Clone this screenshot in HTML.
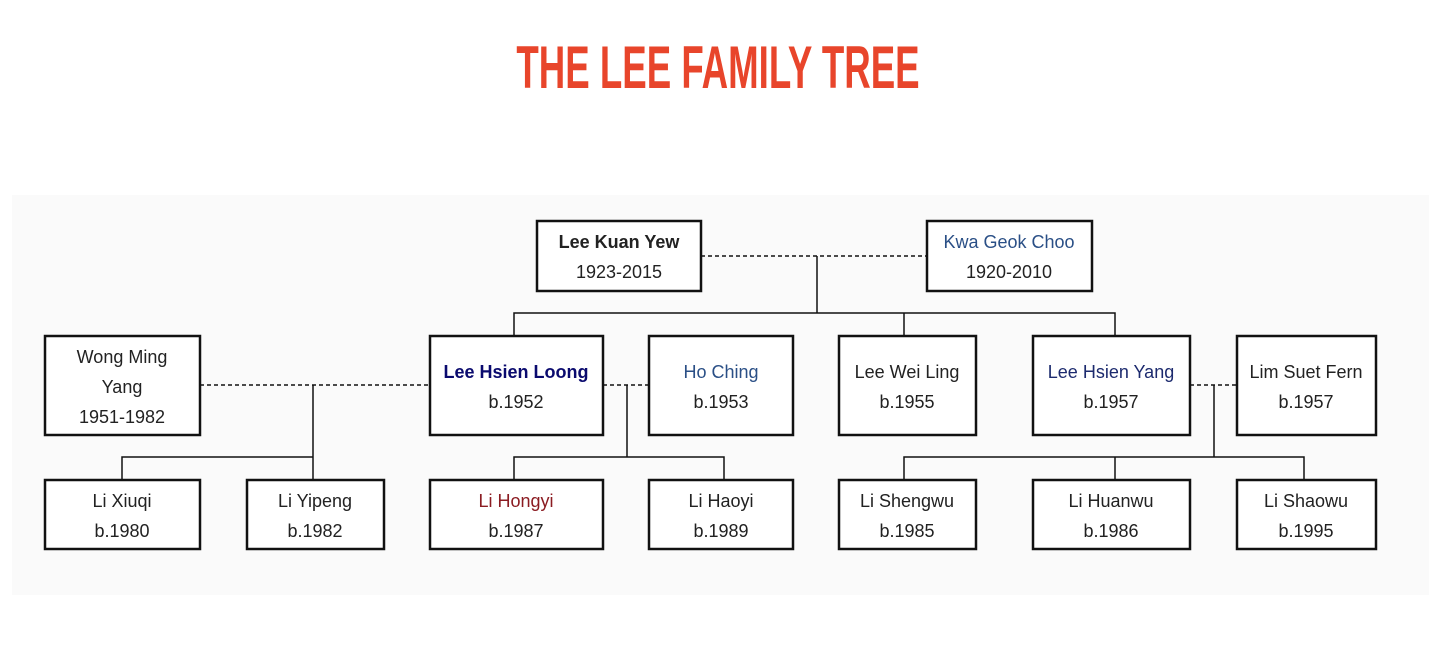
<!DOCTYPE html>
<html><head><meta charset="utf-8"><style>
html,body{margin:0;padding:0;background:#fff;width:1429px;height:650px;overflow:hidden}
svg{display:block}
.t{font-family:"Liberation Sans",Arial,sans-serif;font-size:18px;fill:#222;text-anchor:middle}
</style></head><body>
<svg width="1429" height="650" viewBox="0 0 1429 650" xmlns="http://www.w3.org/2000/svg">
<rect x="0" y="0" width="1429" height="650" fill="#fff"/>
<text x="718" y="88" text-anchor="middle" font-family="Liberation Sans,Arial,sans-serif" font-weight="bold" font-size="60" fill="#e8452b" transform="translate(718 0) scale(0.72 1) translate(-718 0)" textLength="560" lengthAdjust="spacingAndGlyphs">THE LEE FAMILY TREE</text>
<rect x="12" y="195" width="1417" height="400" fill="#fafafa"/>
<g stroke="#111" stroke-width="1.5" fill="none">
<line x1="701" y1="256" x2="927" y2="256" stroke-dasharray="4,3"/>
<line x1="817" y1="256" x2="817" y2="313"/>
<polyline points="514,336 514,313 1115,313 1115,336"/>
<line x1="904" y1="313" x2="904" y2="336"/>
<line x1="200" y1="385" x2="430" y2="385" stroke-dasharray="4,3"/>
<line x1="603" y1="385" x2="649" y2="385" stroke-dasharray="4,3"/>
<line x1="1190" y1="385" x2="1237" y2="385" stroke-dasharray="4,3"/>
<line x1="313" y1="385" x2="313" y2="480"/>
<polyline points="122,480 122,457 313,457"/>
<line x1="627" y1="385" x2="627" y2="457"/>
<polyline points="514,480 514,457 724,457 724,480"/>
<line x1="1214" y1="385" x2="1214" y2="457"/>
<polyline points="904,480 904,457 1304,457 1304,480"/>
<line x1="1115" y1="457" x2="1115" y2="480"/>
</g>
<g fill="#fff" stroke="#111" stroke-width="2.5">
<rect x="537" y="221" width="164" height="70"/>
<rect x="927" y="221" width="165" height="70"/>
<rect x="45" y="336" width="155" height="99"/>
<rect x="430" y="336" width="173" height="99"/>
<rect x="649" y="336" width="144" height="99"/>
<rect x="839" y="336" width="137" height="99"/>
<rect x="1033" y="336" width="157" height="99"/>
<rect x="1237" y="336" width="139" height="99"/>
<rect x="45" y="480" width="155" height="69"/>
<rect x="247" y="480" width="137" height="69"/>
<rect x="430" y="480" width="173" height="69"/>
<rect x="649" y="480" width="144" height="69"/>
<rect x="839" y="480" width="137" height="69"/>
<rect x="1033" y="480" width="157" height="69"/>
<rect x="1237" y="480" width="139" height="69"/>
</g>
<text class="t" x="619" y="248" font-weight="bold" fill="#111">Lee Kuan Yew</text>
<text class="t" x="619" y="278">1923-2015</text>
<text class="t" x="1009" y="248" style="fill:#2a4f86">Kwa Geok Choo</text>
<text class="t" x="1009" y="278">1920-2010</text>
<text class="t" x="122" y="363">Wong Ming</text>
<text class="t" x="122" y="393">Yang</text>
<text class="t" x="122" y="423">1951-1982</text>
<text class="t" x="516" y="378" font-weight="bold" style="fill:#0a0a6e">Lee Hsien Loong</text>
<text class="t" x="516" y="408">b.1952</text>
<text class="t" x="721" y="378" style="fill:#2a4f86">Ho Ching</text>
<text class="t" x="721" y="408">b.1953</text>
<text class="t" x="907" y="378">Lee Wei Ling</text>
<text class="t" x="907" y="408">b.1955</text>
<text class="t" x="1111" y="378" style="fill:#1c2a6e">Lee Hsien Yang</text>
<text class="t" x="1111" y="408">b.1957</text>
<text class="t" x="1306" y="378">Lim Suet Fern</text>
<text class="t" x="1306" y="408">b.1957</text>
<text class="t" x="122" y="507">Li Xiuqi</text>
<text class="t" x="122" y="537">b.1980</text>
<text class="t" x="315" y="507">Li Yipeng</text>
<text class="t" x="315" y="537">b.1982</text>
<text class="t" x="516" y="507" style="fill:#8b1c22">Li Hongyi</text>
<text class="t" x="516" y="537">b.1987</text>
<text class="t" x="721" y="507">Li Haoyi</text>
<text class="t" x="721" y="537">b.1989</text>
<text class="t" x="907" y="507">Li Shengwu</text>
<text class="t" x="907" y="537">b.1985</text>
<text class="t" x="1111" y="507">Li Huanwu</text>
<text class="t" x="1111" y="537">b.1986</text>
<text class="t" x="1306" y="507">Li Shaowu</text>
<text class="t" x="1306" y="537">b.1995</text>
</svg>
</body></html>
